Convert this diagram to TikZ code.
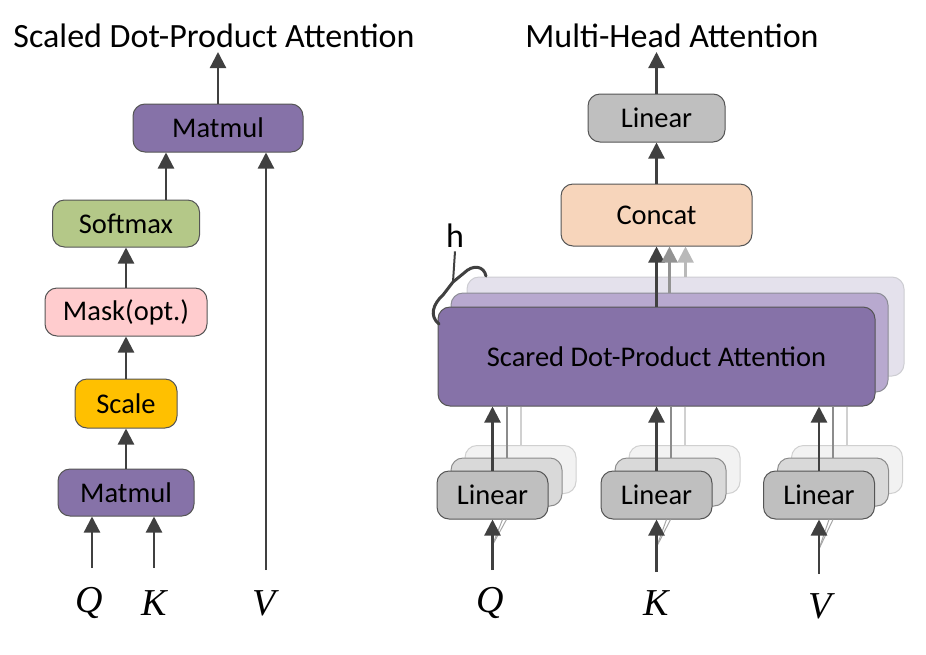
\documentclass[tikz,border=0pt]{standalone}
\usepackage{fontspec}
\setmainfont{Carlito}
\newfontfamily\qkvfont{Liberation Serif}
\usepackage{tikz}
\usetikzlibrary{arrows.meta}

\definecolor{mulpurple}{RGB}{134,114,168}
\definecolor{head2}{RGB}{184,169,207}
\definecolor{head3}{RGB}{228,225,236}
\definecolor{head2line}{RGB}{140,140,150}
\definecolor{head3line}{RGB}{205,205,210}
\definecolor{softgreen}{RGB}{180,200,136}
\definecolor{maskpink}{RGB}{255,204,206}
\definecolor{scalegold}{RGB}{255,192,0}
\definecolor{concatpeach}{RGB}{247,213,187}
\definecolor{lingray}{RGB}{191,191,191}
\definecolor{lin2}{RGB}{217,217,217}
\definecolor{lin3}{RGB}{242,242,242}
\definecolor{lin2line}{RGB}{140,140,140}
\definecolor{lin3line}{RGB}{208,208,208}
\definecolor{boxline}{RGB}{85,85,85}
\definecolor{arrgray}{RGB}{64,64,64}

\begin{document}
\begin{tikzpicture}[x=1pt, y=-1pt,
  box/.style={draw=boxline, rounded corners=12pt, line width=1pt, align=center, inner sep=0pt, font=\fontsize{28.5}{32}\selectfont},
  arr/.style={-{Triangle[length=16pt,width=16pt]}, line width=2.2pt, draw=arrgray, fill=arrgray},
  arrmid/.style={arr, draw=gray!85, fill=gray!85},
  arrlight/.style={arr, draw=gray!55, fill=gray!55},
  linemid/.style={line width=2pt, draw=lin2line},
  linelight/.style={line width=2pt, draw=lin3line},
  faint/.style={line width=1pt, draw=gray!70},
  title/.style={font=\fontsize{34}{38}\selectfont},
  qkv/.style={font=\qkvfont\itshape\fontsize{38}{40}\selectfont},
  brace/.style={line width=3pt, draw=arrgray, line cap=round, line join=round}
]
\useasboundingbox (0,0) rectangle (926,654);

% scaled dot-product attention
\node[title] (sdpa) at (214,36) {Scaled Dot-Product Attention};
\node[box, fill=mulpurple, minimum width=170pt, minimum height=48pt] (matmulT) at (218,128) {Matmul};
\node[box, fill=softgreen, minimum width=147pt, minimum height=47pt] (softmax) at (126,223.5) {Softmax};
\node[box, fill=maskpink, minimum width=162pt, minimum height=48pt] (mask) at (126,312) {Mask(opt.)};
\node[box, fill=scalegold, minimum width=102pt, minimum height=49pt] (scale) at (126,403.5) {Scale};
\node[box, fill=mulpurple, minimum width=136pt, minimum height=47pt] (matmulB) at (126,492.5) {Matmul};

\node[qkv] (qL) at (89,603) {Q};
\node[qkv] (kL) at (154,603) {K};
\node[qkv] (vL) at (264,603) {V};

\coordinate (outL) at (218,52);
\coordinate (qinL) at (92,568);
\coordinate (kinL) at (154,568);
\coordinate (vinL) at (266,570);

\draw[arr] (matmulT) -- (outL);
\draw[arr] ([xshift=40pt]softmax.north) -- ([xshift=40pt]softmax.north |- matmulT.south);
\draw[arr] (mask) -- (softmax);
\draw[arr] (scale) -- (mask);
\draw[arr] (matmulB) -- (scale);
\draw[arr] (qinL) -- (qinL |- matmulB.south);
\draw[arr] (kinL) -- (kinL |- matmulB.south);
\draw[arr] (vinL) -- (vinL |- matmulT.south);

% multi-head attention
\node[title] (mha) at (672,36) {Multi-Head Attention};
\node[box, fill=lingray, minimum width=137pt, minimum height=48pt] (linTop) at (656.5,118) {Linear};
\node[box, fill=concatpeach, minimum width=191pt, minimum height=62pt] (concat) at (656.5,215) {Concat};

% h heads, back to front
\node[box, draw=head3line, fill=head3, minimum width=437pt, minimum height=99pt] (att3) at (685.5,326.5) {};
\node[box, draw=head2line, fill=head2, minimum width=437pt, minimum height=99pt] (att2) at (669.5,342.5) {};
\node[box, fill=mulpurple, minimum width=437pt, minimum height=99pt] (att) at (656.5,356.5) {Scared Dot-Product Attention};

\node[title] (hlab) at (455,236) {h};
\coordinate (hcusp) at (453,282);
\draw[line width=2pt, draw=arrgray] (hlab.south) -- (hcusp);
\draw[brace] (439,324) .. controls (429,316) and (433,304) .. (443,295) -- (hcusp) -- (464,273) .. controls (473,264) and (484,266) .. (486,276);

% linear projections
\node[box, draw=lin3line, fill=lin3, minimum width=111pt, minimum height=48pt] (linQ3) at (520.5,469.5) {};
\node[box, draw=lin2line, fill=lin2, minimum width=111pt, minimum height=48pt] (linQ2) at (506.5,482) {};
\node[box, fill=lingray, minimum width=111pt, minimum height=48pt] (linQ) at (492.5,495) {Linear};

\node[box, draw=lin3line, fill=lin3, minimum width=111pt, minimum height=48pt] (linK3) at (684.5,469.5) {};
\node[box, draw=lin2line, fill=lin2, minimum width=111pt, minimum height=48pt] (linK2) at (670.5,482) {};
\node[box, fill=lingray, minimum width=111pt, minimum height=48pt] (linK) at (656.5,495) {Linear};

\node[box, draw=lin3line, fill=lin3, minimum width=111pt, minimum height=48pt] (linV3) at (847,469.5) {};
\node[box, draw=lin2line, fill=lin2, minimum width=111pt, minimum height=48pt] (linV2) at (833,482) {};
\node[box, fill=lingray, minimum width=111pt, minimum height=48pt] (linV) at (819,495) {Linear};

\node[qkv] (qR) at (490,603) {Q};
\node[qkv] (kR) at (656,603) {K};
\node[qkv] (vR) at (820,606) {V};

\coordinate (outR) at (656.5,52);
\coordinate (qin) at (492.5,570);
\coordinate (kin) at (656.5,572);
\coordinate (vin) at (819,574);
\coordinate (qfork) at (492.5,545);
\coordinate (kfork) at (656.5,547);
\coordinate (vfork) at (819,549);

\draw[arr] (linTop) -- (outR);
\draw[arr] (concat) -- (linTop);
\draw[arr] (att) -- (concat);
\draw[arrmid] (att2.north) -- (att2.north |- concat.south);
\draw[arrlight] (att3.north) -- (att3.north |- concat.south);

\draw[linelight] (linQ3.north) -- (linQ3.north |- att.south);
\draw[linemid] (linQ2.north) -- (linQ2.north |- att.south);
\draw[arr] (linQ) -- (linQ |- att.south);
\draw[linelight] (linK3.north) -- (linK3.north |- att.south);
\draw[linemid] (linK2.north) -- (linK2.north |- att.south);
\draw[arr] (linK) -- (linK |- att.south);
\draw[linelight] (linV3.north) -- (linV3.north |- att.south);
\draw[linemid] (linV2.north) -- (linV2.north |- att.south);
\draw[arr] (linV) -- (linV |- att.south);

\draw[faint] (qfork) -- ([xshift=10pt]linQ.south);
\draw[faint] (qfork) -- ([xshift=14pt]linQ.south);
\draw[faint] (kfork) -- ([xshift=10pt]linK.south);
\draw[faint] (kfork) -- ([xshift=14pt]linK.south);
\draw[faint] (vfork) -- ([xshift=10pt]linV.south);
\draw[faint] (vfork) -- ([xshift=14pt]linV.south);
\draw[arr] (qin) -- (linQ);
\draw[arr] (kin) -- (linK);
\draw[arr] (vin) -- (linV);

\end{tikzpicture}
\end{document}
